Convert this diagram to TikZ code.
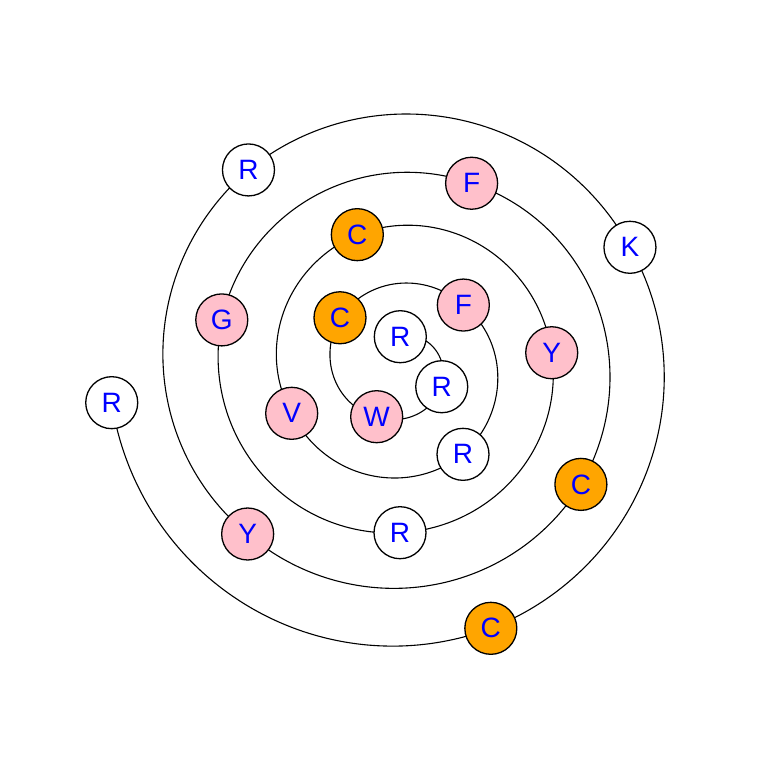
\documentclass[tikz,border=0pt]{standalone}
\usepackage{fontspec}
\setmainfont{Liberation Sans}
\usetikzlibrary{calc}
\definecolor{pinkfill}{HTML}{FFC0CB}
\definecolor{orangefill}{HTML}{FFA500}
\definecolor{labelblue}{HTML}{0000FF}
\begin{document}
\begin{tikzpicture}[x=1pt,y=-1pt,
  vtx/.style={circle,draw=black,line width=1.3pt,minimum size=52pt,inner sep=0pt,
    text=labelblue,font=\fontsize{28}{28}\selectfont},
  wn/.style={vtx,fill=white},
  pn/.style={vtx,fill=pinkfill},
  on/.style={vtx,fill=orangefill},
  spiral/.style={draw=black,line width=1.1pt}]
\useasboundingbox (0,0) rectangle (768,768);
\coordinate (ctr) at (400,366);
% spiral connectors between consecutive nodes (angle/radius of each end)
\foreach \aa/\ra/\ab/\rb in {
  -89.4/29.3/26.4/46.6,
  26.4/46.6/114.7/55.8,
  114.7/55.8/218.8/77.0,
  218.8/77.0/316.1/87.9,
  316.1/87.9/414.5/108.5,
  414.5/108.5/516.4/118.2,
  516.4/118.2/612/138.1,
  612/138.1/715/152.3,
  715/152.3/810/166.7,
  810/166.7/914.5/184.1,
  914.5/184.1/1011.4/196.3,
  1011.4/196.3/1113.2/216.2,
  1113.2/216.2/1212.2/226.8,
  1212.2/226.8/1312.3/247.8,
  1312.3/247.8/1412.7/258.8,
  1412.7/258.8/1510.9/277.6,
  1510.9/277.6/1612.75/290.6}{
  \draw[spiral,shift={(ctr)}] plot[domain=0:1,samples=40,variable=\t,smooth]
    ({\aa+(\ab-\aa)*\t}:{\ra+(\rb-\ra)*\t});
}
% nodes
\foreach \i/\a/\r/\l/\s in {
  0/-89.4/29.3/R/wn,
  1/26.4/46.6/R/wn,
  2/114.7/55.8/W/pn,
  3/218.8/77.0/C/on,
  4/316.1/87.9/F/pn,
  5/414.5/108.5/R/wn,
  6/516.4/118.2/V/pn,
  7/612/138.1/C/on,
  8/715/152.3/Y/pn,
  9/810/166.7/R/wn,
  10/914.5/184.1/G/pn,
  11/1011.4/196.3/F/pn,
  12/1113.2/216.2/C/on,
  13/1212.2/226.8/Y/pn,
  14/1312.3/247.8/R/wn,
  15/1412.7/258.8/K/wn,
  16/1510.9/277.6/C/on,
  17/1612.75/290.6/R/wn}{
  \node[\s] (n\i) at ($(ctr)+(\a:\r)$) {\l};
}
\end{tikzpicture}
\end{document}
